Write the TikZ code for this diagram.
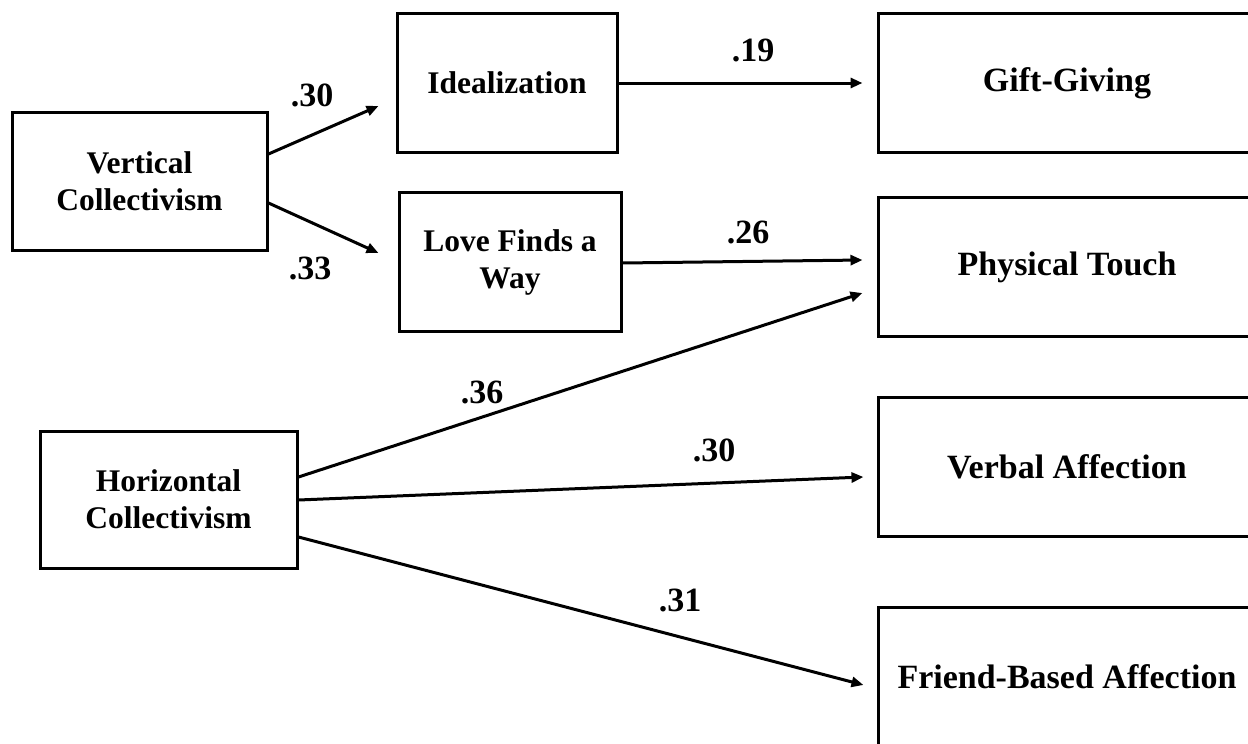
\documentclass[tikz,border=0pt]{standalone}
\usepackage{fontspec}
\setmainfont{Liberation Serif}
\usetikzlibrary{arrows.meta,calc}
\begin{document}
\begin{tikzpicture}[x=1pt,y=-1pt,
  box/.style={draw,line width=3pt,minimum height=139pt,inner sep=0pt,align=center,
    font=\bfseries\fontsize{31.5}{37}\selectfont},
  rbox/.style={box,minimum width=378pt,font=\bfseries\fontsize{34}{40}\selectfont},
  arr/.style={line width=3pt,-{Triangle[length=12pt,width=10pt]}},
  lab/.style={inner sep=0pt,font=\bfseries\fontsize{34}{40}\selectfont}]
\useasboundingbox (0,0) rectangle (1248,744);
\clip (0,0) rectangle (1248,744);
% nodes
\node[box,minimum width=255pt,minimum height=138pt] (vc) at (139.5,181) {Vertical\\Collectivism};
\node[box,minimum width=257pt,minimum height=137pt] (hc) at (168.5,499.5) {Horizontal\\Collectivism};
\node[box,minimum width=220pt] (ideal) at (507,83) {Idealization};
\node[box,minimum width=222pt] (love) at (510,262) {Love Finds a\\Way};
\node[rbox] (gift) at (1067,83) {Gift-Giving};
\node[rbox] (touch) at (1067,267) {Physical Touch};
\node[rbox] (verbal) at (1067,467) {Verbal Affection};
\node[rbox] (friend) at (1067,677) {Friend-Based Affection};
% connectors
\draw[arr] ($(vc.east)+(0,-27)$) -- ($(ideal.west)+(-17,23)$);
\draw[arr] ($(vc.east)+(0,22)$) -- ($(love.west)+(-19,-9)$);
\draw[arr] (ideal.east) -- ($(gift.west)+(-14,0)$);
\draw[arr] ($(love.east)+(0,1)$) -- ($(touch.west)+(-14,-7)$);
\draw[arr] ($(hc.east)+(0,-22.5)$) -- ($(touch.west)+(-14,26)$);
\draw[arr] ($(hc.east)+(0,0.5)$) -- ($(verbal.west)+(-13,10)$);
\draw[arr] ($(hc.east)+(0,37.5)$) -- ($(friend.west)+(-13,8)$);
% labels
\node[lab] (l1) at (312,95) {.30};
\node[lab] (l2) at (310,268) {.33};
\node[lab] (l3) at (753,50) {.19};
\node[lab] (l4) at (748,232) {.26};
\node[lab] (l5) at (482,392) {.36};
\node[lab] (l6) at (714,450) {.30};
\node[lab] (l7) at (680,600) {.31};
\end{tikzpicture}
\end{document}
